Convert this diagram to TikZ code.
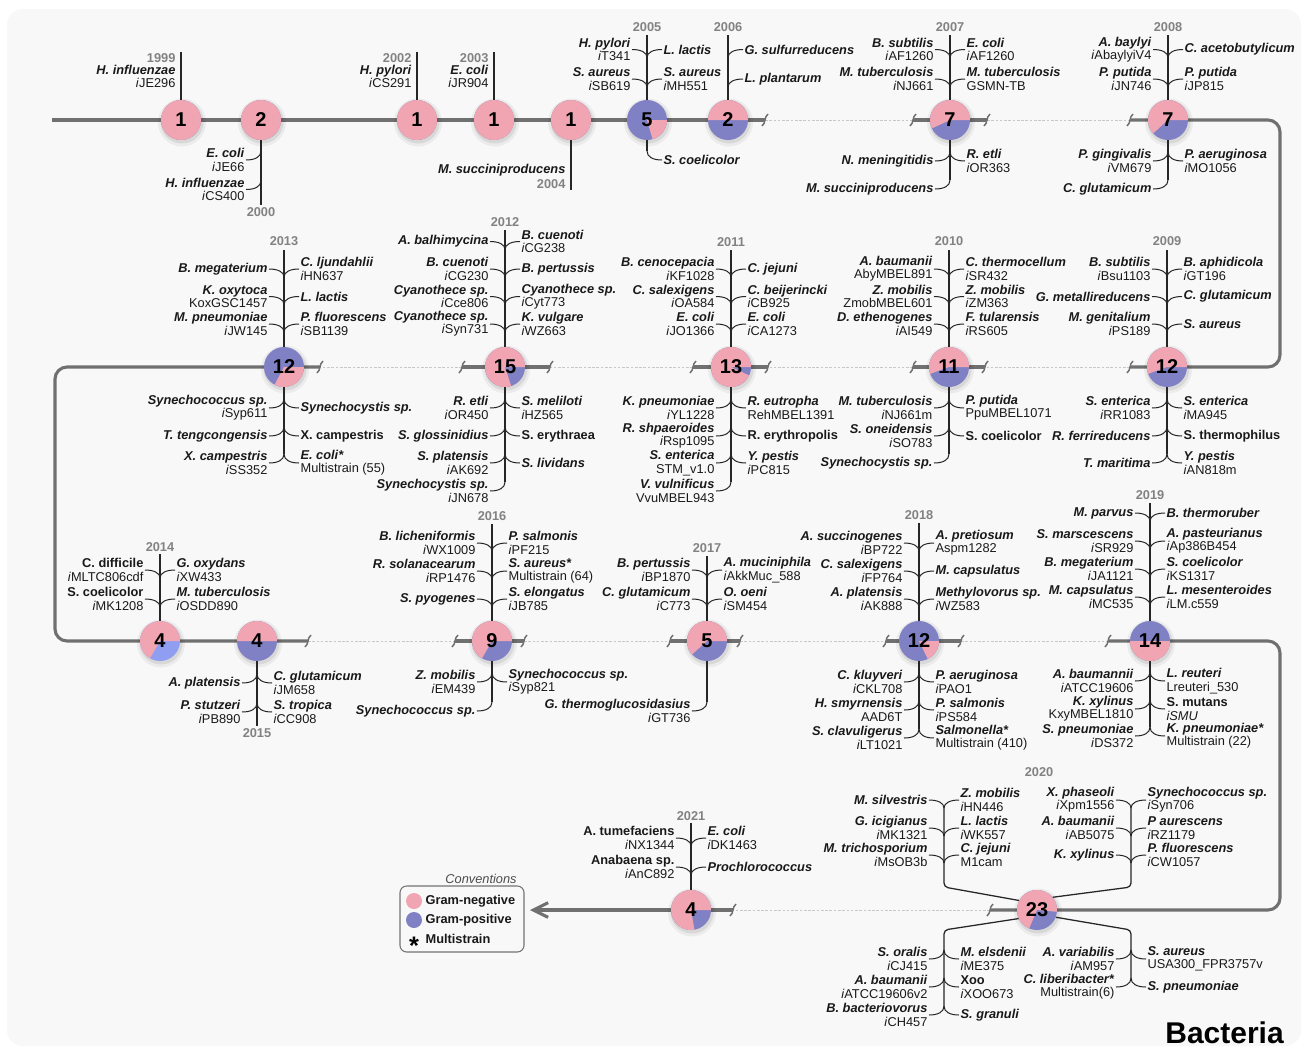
\documentclass[tikz,border=0pt]{standalone}
\usepackage{fontspec}
\setmainfont{Liberation Sans}
\usetikzlibrary{arrows.meta}

\definecolor{gneg}{RGB}{241,164,177}
\definecolor{gpos}{RGB}{128,128,196}
\definecolor{gposl}{RGB}{143,158,240}
\definecolor{linegray}{RGB}{112,112,112}
\definecolor{dashgray}{RGB}{200,200,200}
\definecolor{yeargray}{RGB}{130,130,130}
\definecolor{bg}{RGB}{247,248,247}

\tikzset{
  mainline/.style={draw=linegray, line width=2.3pt, rounded corners=9pt},
  thinline/.style={draw=dashgray, line width=0.6pt, dash pattern=on 2pt off 1.2pt},
  gapline/.style={draw=linegray, line width=1.1pt},
  stalk/.style={draw=black!85, line width=0.95pt},
  twig/.style={draw=black!85, line width=0.75pt},
  bnum/.style={circle, minimum size=30pt, inner sep=0pt, font=\fontsize{15}{15}\selectfont\bfseries},
  lbl/.style={font=\fontsize{9.6}{10}\selectfont, inner sep=1pt, text=black!90},
  yr/.style={font=\fontsize{9.6}{10}\selectfont\bfseries, inner sep=1pt, text=yeargray},
  legbox/.style={draw=black!55, line width=0.8pt, rounded corners=5pt, fill=bg},
}

\newcommand{\tax}[1]{\textbf{\textit{#1}}}
\newcommand{\taxu}[1]{\textbf{#1}}
\newcommand{\gsm}[1]{\textit{i}#1}

\newcounter{twig}
% labels above the circle, joining the stalk below them
\newcommand{\upl}[3]{\stepcounter{twig}%
  \node[lbl,anchor=east,align=right] (n\thetwig) at ({#1-15},{#2}) {#3};
  \coordinate (j\thetwig) at (#1,{#2+8});
  \draw[twig] (n\thetwig.east) .. controls ({#1-6},{#2}) and (#1,{#2+3}) .. (j\thetwig);}
\newcommand{\upr}[3]{\stepcounter{twig}%
  \node[lbl,anchor=west,align=left] (n\thetwig) at ({#1+15},{#2}) {#3};
  \coordinate (j\thetwig) at (#1,{#2+8});
  \draw[twig] (n\thetwig.west) .. controls ({#1+6},{#2}) and (#1,{#2+3}) .. (j\thetwig);}
% labels below the circle, joining the stalk above them
\newcommand{\dnl}[3]{\stepcounter{twig}%
  \node[lbl,anchor=east,align=right] (n\thetwig) at ({#1-15},{#2}) {#3};
  \coordinate (j\thetwig) at (#1,{#2-9});
  \draw[twig] (n\thetwig.east) .. controls ({#1-6},{#2}) and (#1,{#2-3}) .. (j\thetwig);}
\newcommand{\dnr}[3]{\stepcounter{twig}%
  \node[lbl,anchor=west,align=left] (n\thetwig) at ({#1+15},{#2}) {#3};
  \coordinate (j\thetwig) at (#1,{#2-9});
  \draw[twig] (n\thetwig.west) .. controls ({#1+6},{#2}) and (#1,{#2-3}) .. (j\thetwig);}

% pie: name, x, y, pink from, pink to (degrees, anticlockwise), number
\newcommand{\yearball}[6]{%
  \fill[black,opacity=.05] ({#2+1},{#3+2.5}) circle[radius=24];
  \fill[black,opacity=.08] ({#2+1},{#3+2}) circle[radius=21.5];
  \fill[gpos] (#2,#3) circle[radius=20];
  \fill[gneg] (#2,#3) -- ++({-(#4)}:20) arc[start angle={-(#4)}, end angle={-(#5)}, radius=20] -- cycle;
  \node[bnum] (#1) at (#2,#3) {#6};}

\newcommand{\gapmark}[2]{\draw[gapline] ({#1-3},{#2+6}) .. controls ({#1+1},{#2+3}) and ({#1-1},{#2-3}) .. ({#1+3},{#2-6});}

\begin{document}
\begin{tikzpicture}[x=0.75pt,y=-0.75pt]
\useasboundingbox (0,0) rectangle (1307,1050);
\fill[white] (0,0) rectangle (1307,1050);
\fill[bg, rounded corners=12pt] (7,9) rectangle (1301,1046);

% timeline
\draw[thinline] (765,120) -- (913,120) (987,120) -- (1130,120);
\draw[thinline] (1130,367) -- (985,367) (913,367) -- (768,367) (693,367) -- (550,367) (462,367) -- (320,367);
\draw[thinline] (308,641) -- (455,641) (524,641) -- (670,641) (740,641) -- (886,641) (961,641) -- (1108,641);
\draw[thinline] (990,910) -- (733,910);

\draw[mainline] (52,120) -- (765,120);
\draw[mainline] (913,120) -- (987,120);
\draw[mainline] (1130,120) -- (1280,120) -- (1280,367) -- (1130,367);
\draw[mainline] (985,367) -- (913,367);
\draw[mainline] (768,367) -- (693,367);
\draw[mainline] (550,367) -- (462,367);
\draw[mainline] (320,367) -- (55,367) -- (55,641) -- (308,641);
\draw[mainline] (455,641) -- (524,641);
\draw[mainline] (670,641) -- (740,641);
\draw[mainline] (886,641) -- (961,641);
\draw[mainline] (1108,641) -- (1280,641) -- (1280,910) -- (990,910);
\draw[mainline,-{Straight Barb[length=11pt,width=11pt]}] (733,910) -- (530,910);

\foreach \x in {765,913,987,1130} {\gapmark{\x}{120}}
\foreach \x in {1130,985,913,768,693,550,462,320} {\gapmark{\x}{367}}
\foreach \x in {308,455,524,670,740,886,961,1108} {\gapmark{\x}{641}}
\foreach \x in {990,733} {\gapmark{\x}{910}}

% 1999
\yearball{c1999}{181}{120}{0}{360}{1}
\coordinate (t1999) at (181,52);
\draw[stalk] (c1999.north) -- (t1999);
\node[yr,anchor=east] (y1999) at (177,58) {1999};
\node[lbl,anchor=east,align=right] (n1999) at (177,76.5) {\tax{H. influenzae}\\\gsm{JE296}};

% 2000
\yearball{c2000}{261}{120}{0}{360}{2}
\coordinate (b2000) at (261,205);
\draw[stalk] (c2000.south) -- (b2000);
\node[yr] (y2000) at (261,212) {2000};
\dnl{261}{160}{\tax{E. coli}\\\gsm{JE66}}
\dnl{261}{189.5}{\tax{H. influenzae}\\\gsm{CS400}}

% 2002
\yearball{c2002}{417}{120}{0}{360}{1}
\coordinate (t2002) at (417,52);
\draw[stalk] (c2002.north) -- (t2002);
\node[yr,anchor=east] (y2002) at (413,58) {2002};
\node[lbl,anchor=east,align=right] (n2002) at (413,76.5) {\tax{H. pylori}\\\gsm{CS291}};

% 2003
\yearball{c2003}{494}{120}{0}{360}{1}
\coordinate (t2003) at (494,52);
\draw[stalk] (c2003.north) -- (t2003);
\node[yr,anchor=east] (y2003) at (490,58) {2003};
\node[lbl,anchor=east,align=right] (n2003) at (490,76.5) {\tax{E. coli}\\\gsm{JR904}};

% 2004
\yearball{c2004}{571}{120}{0}{360}{1}
\coordinate (b2004) at (571,190);
\draw[stalk] (c2004.south) -- (b2004);
\node[lbl,anchor=east] (n2004) at (567,170) {\tax{M. succiniproducens}};
\node[yr,anchor=east] (y2004) at (567,184) {2004};

% 2005
\yearball{c2005}{647}{120}{-74}{0}{5}
\coordinate (t2005) at (647,35);
\coordinate (b2005) at (647,151);
\draw[stalk] (c2005.north) -- (t2005);
\draw[stalk] (c2005.south) -- (b2005);
\node[yr] (y2005) at (647,27) {2005};
\upl{647}{49.5}{\tax{H. pylori}\\\gsm{T341}}
\upr{647}{49.5}{\tax{L. lactis}}
\upl{647}{79}{\tax{S. aureus}\\\gsm{SB619}}
\upr{647}{79}{\tax{S. aureus}\\\gsm{MH551}}
\dnr{647}{160}{\tax{S. coelicolor}}

% 2006
\yearball{c2006}{728}{120}{0}{180}{2}
\coordinate (t2006) at (728,35);
\draw[stalk] (c2006.north) -- (t2006);
\node[yr] (y2006) at (728,27) {2006};
\upr{728}{49.5}{\tax{G. sulfurreducens}}
\upr{728}{79}{\tax{L. plantarum}}

% 2007
\yearball{c2007}{950}{120}{0}{205}{7}
\coordinate (t2007) at (950,35);
\coordinate (b2007) at (950,180);
\draw[stalk] (c2007.north) -- (t2007);
\draw[stalk] (c2007.south) -- (b2007);
\node[yr] (y2007) at (950,27) {2007};
\upl{950}{49.5}{\tax{B. subtilis}\\\gsm{AF1260}}
\upr{950}{49.5}{\tax{E. coli}\\\gsm{AF1260}}
\upl{950}{79}{\tax{M. tuberculosis}\\\gsm{NJ661}}
\upr{950}{79}{\tax{M. tuberculosis}\\GSMN-TB}
\dnl{950}{161}{\tax{N. meningitidis}}
\dnr{950}{161}{\tax{R. etli}\\\gsm{OR363}}
\dnl{950}{189}{\tax{M. succiniproducens}}

% 2008
\yearball{c2008}{1168}{120}{0}{222}{7}
\coordinate (t2008) at (1168,35);
\coordinate (b2008) at (1168,180);
\draw[stalk] (c2008.north) -- (t2008);
\draw[stalk] (c2008.south) -- (b2008);
\node[yr] (y2008) at (1168,27) {2008};
\upl{1168}{49.5}{\tax{A. baylyi}\\\gsm{AbaylyiV4}}
\upr{1168}{49.5}{\tax{C. acetobutylicum}}
\upl{1168}{79}{\tax{P. putida}\\\gsm{JN746}}
\upr{1168}{79}{\tax{P. putida}\\\gsm{JP815}}
\dnl{1168}{161}{\tax{P. gingivalis}\\\gsm{VM679}}
\dnr{1168}{161}{\tax{P. aeruginosa}\\\gsm{MO1056}}
\dnl{1168}{189}{\tax{C. glutamicum}}

% 2009
\yearball{c2009}{1167}{367}{0}{200}{12}
\coordinate (t2009) at (1167,250);
\coordinate (b2009) at (1167,454);
\draw[stalk] (c2009.north) -- (t2009);
\draw[stalk] (c2009.south) -- (b2009);
\node[yr] (y2009) at (1167,241) {2009};
\upl{1167}{269}{\tax{B. subtilis}\\\gsm{Bsu1103}}
\upr{1167}{269}{\tax{B. aphidicola}\\\gsm{GT196}}
\upl{1167}{296.5}{\tax{G. metallireducens}}
\upr{1167}{296.5}{\tax{C. glutamicum}}
\upl{1167}{324}{\tax{M. genitalium}\\\gsm{PS189}}
\upr{1167}{324}{\tax{S. aureus}}
\dnl{1167}{408}{\tax{S. enterica}\\\gsm{RR1083}}
\dnr{1167}{408}{\tax{S. enterica}\\\gsm{MA945}}
\dnl{1167}{436}{\tax{R. ferrireducens}}
\dnr{1167}{436}{\taxu{S. thermophilus}}
\dnl{1167}{463}{\tax{T. maritima}}
\dnr{1167}{463}{\tax{Y. pestis}\\\gsm{AN818m}}

% 2010
\yearball{c2010}{949}{367}{0}{200}{11}
\coordinate (t2010) at (949,250);
\coordinate (b2010) at (949,454);
\draw[stalk] (c2010.north) -- (t2010);
\draw[stalk] (c2010.south) -- (b2010);
\node[yr] (y2010) at (949,241) {2010};
\upl{949}{269}{\tax{A. baumanii}\\AbyMBEL891}
\upr{949}{269}{\tax{C. thermocellum}\\\gsm{SR432}}
\upl{949}{296.5}{\tax{Z. mobilis}\\ZmobMBEL601}
\upr{949}{296.5}{\tax{Z. mobilis}\\\gsm{ZM363}}
\upl{949}{324}{\tax{D. ethenogenes}\\\gsm{AI549}}
\upr{949}{324}{\tax{F. tularensis}\\\gsm{RS605}}
\dnl{949}{408}{\tax{M. tuberculosis}\\\gsm{NJ661m}}
\dnr{949}{408}{\tax{P. putida}\\PpuMBEL1071}
\dnl{949}{436}{\tax{S. oneidensis}\\\gsm{SO783}}
\dnr{949}{436}{\taxu{S. coelicolor}}
\dnl{949}{463}{\tax{Synechocystis sp.}}

% 2011
\yearball{c2011}{731}{367}{0}{335}{13}
\coordinate (t2011) at (731,250);
\coordinate (b2011) at (731,482);
\draw[stalk] (c2011.north) -- (t2011);
\draw[stalk] (c2011.south) -- (b2011);
\node[yr] (y2011) at (731,242) {2011};
\upl{731}{269}{\tax{B. cenocepacia}\\\gsm{KF1028}}
\upr{731}{269}{\tax{C. jejuni}}
\upl{731}{296.5}{\tax{C. salexigens}\\\gsm{OA584}}
\upr{731}{296.5}{\tax{C. beijerincki}\\\gsm{CB925}}
\upl{731}{324}{\tax{E. coli}\\\gsm{JO1366}}
\upr{731}{324}{\tax{E. coli}\\\gsm{CA1273}}
\dnl{731}{408}{\tax{K. pneumoniae}\\\gsm{YL1228}}
\dnr{731}{408}{\tax{R. eutropha}\\RehMBEL1391}
\dnl{731}{436}{\tax{R. shpaeroides}\\\gsm{Rsp1095}}
\dnr{731}{436}{\taxu{R. erythropolis}}
\dnl{731}{463}{\tax{S. enterica}\\STM\_v1.0}
\dnr{731}{463}{\tax{Y. pestis}\\\gsm{PC815}}
\dnl{731}{491}{\tax{V. vulnificus}\\VvuMBEL943}

% 2012
\yearball{c2012}{505}{367}{0}{288}{15}
\coordinate (t2012) at (505,230);
\coordinate (b2012) at (505,482);
\draw[stalk] (c2012.north) -- (t2012);
\draw[stalk] (c2012.south) -- (b2012);
\node[yr] (y2012) at (505,222) {2012};
\upl{505}{241.5}{\tax{A. balhimycina}}
\upr{505}{241.5}{\tax{B. cuenoti}\\\gsm{CG238}}
\upl{505}{269}{\tax{B. cuenoti}\\\gsm{CG230}}
\upr{505}{269}{\tax{B. pertussis}}
\upl{505}{296.5}{\tax{Cyanothece sp.}\\\gsm{Cce806}}
\upr{505}{296.5}{\tax{Cyanothece sp.}\\\gsm{Cyt773}}
\upl{505}{324}{\tax{Cyanothece sp.}\\\gsm{Syn731}}
\upr{505}{324}{\tax{K. vulgare}\\\gsm{WZ663}}
\dnl{505}{408}{\tax{R. etli}\\\gsm{OR450}}
\dnr{505}{408}{\tax{S. meliloti}\\\gsm{HZ565}}
\dnl{505}{436}{\tax{S. glossinidius}}
\dnr{505}{436}{\taxu{S. erythraea}}
\dnl{505}{463}{\tax{S. platensis}\\\gsm{AK692}}
\dnr{505}{463}{\tax{S. lividans}}
\dnl{505}{491}{\tax{Synechocystis sp.}\\\gsm{JN678}}

% 2013
\yearball{c2013}{284}{367}{-118}{0}{12}
\coordinate (t2013) at (284,250);
\coordinate (b2013) at (284,454);
\draw[stalk] (c2013.north) -- (t2013);
\draw[stalk] (c2013.south) -- (b2013);
\node[yr] (y2013) at (284,241) {2013};
\upl{284}{269}{\tax{B. megaterium}}
\upr{284}{269}{\tax{C. ljundahlii}\\\gsm{HN637}}
\upl{284}{296.5}{\tax{K. oxytoca}\\KoxGSC1457}
\upr{284}{296.5}{\tax{L. lactis}}
\upl{284}{324}{\tax{M. pneumoniae}\\\gsm{JW145}}
\upr{284}{324}{\tax{P. fluorescens}\\\gsm{SB1139}}
\dnl{284}{408}{\tax{Synechococcus sp.}\\\gsm{Syp611}}
\dnr{284}{408}{\tax{Synechocystis sp.}}
\dnl{284}{436}{\tax{T. tengcongensis}}
\dnr{284}{436}{\taxu{X. campestris}}
\dnl{284}{463}{\tax{X. campestris}\\\gsm{SS352}}
\dnr{284}{463}{\tax{E. coli*}\\Multistrain (55)}

% 2014
\begin{scope}
\colorlet{gpos}{gposl}
\yearball{c2014}{160}{641}{0}{240}{4}
\end{scope}
\coordinate (t2014) at (160,554);
\draw[stalk] (c2014.north) -- (t2014);
\node[yr] (y2014) at (160,547) {2014};
\upl{160}{570}{\taxu{C. difficile}\\\gsm{MLTC806cdf}}
\upr{160}{570}{\tax{G. oxydans}\\\gsm{XW433}}
\upl{160}{599}{\taxu{S. coelicolor}\\\gsm{MK1208}}
\upr{160}{599}{\tax{M. tuberculosis}\\\gsm{OSDD890}}

% 2015
\yearball{c2015}{257}{641}{0}{180}{4}
\coordinate (b2015) at (257,726);
\draw[stalk] (c2015.south) -- (b2015);
\node[yr] (y2015) at (257,733) {2015};
\dnl{257}{683}{\tax{A. platensis}}
\dnr{257}{683}{\tax{C. glutamicum}\\\gsm{JM658}}
\dnl{257}{712}{\tax{P. stutzeri}\\\gsm{PB890}}
\dnr{257}{712}{\tax{S. tropica}\\\gsm{CC908}}

% 2016
\yearball{c2016}{492}{641}{0}{240}{9}
\coordinate (t2016) at (492,524);
\coordinate (b2016) at (492,702);
\draw[stalk] (c2016.north) -- (t2016);
\draw[stalk] (c2016.south) -- (b2016);
\node[yr] (y2016) at (492,516) {2016};
\upl{492}{543}{\tax{B. licheniformis}\\\gsm{WX1009}}
\upr{492}{543}{\tax{P. salmonis}\\\gsm{PF215}}
\upl{492}{571}{\tax{R. solanacearum}\\\gsm{RP1476}}
\upr{492}{571}{\tax{S. aureus*}\\Multistrain (64)}
\upl{492}{599}{\tax{S. pyogenes}}
\upr{492}{599}{\tax{S. elongatus}\\\gsm{JB785}}
\dnl{492}{682}{\tax{Z. mobilis}\\\gsm{EM439}}
\dnr{492}{682}{\tax{Synechococcus sp.}\\\gsm{Syp821}}
\dnl{492}{711}{\tax{Synechococcus sp.}}

% 2017
\yearball{c2017}{707}{641}{0}{222}{5}
\coordinate (t2017) at (707,556);
\coordinate (b2017) at (707,702);
\draw[stalk] (c2017.north) -- (t2017);
\draw[stalk] (c2017.south) -- (b2017);
\node[yr] (y2017) at (707,548) {2017};
\upl{707}{570}{\tax{B. pertussis}\\\gsm{BP1870}}
\upr{707}{570}{\tax{A. muciniphila}\\\gsm{AkkMuc\_588}}
\upl{707}{599}{\tax{C. glutamicum}\\\gsm{C773}}
\upr{707}{599}{\tax{O. oeni}\\\gsm{SM454}}
\dnl{707}{711}{\tax{G. thermoglucosidasius}\\\gsm{GT736}}

% 2018
\yearball{c2018}{919}{641}{-64}{0}{12}
\coordinate (t2018) at (919,523);
\coordinate (b2018) at (919,729);
\draw[stalk] (c2018.north) -- (t2018);
\draw[stalk] (c2018.south) -- (b2018);
\node[yr] (y2018) at (919,515) {2018};
\upl{919}{543}{\tax{A. succinogenes}\\\gsm{BP722}}
\upr{919}{543}{\tax{A. pretiosum}\\Aspm1282}
\upl{919}{571}{\tax{C. salexigens}\\\gsm{FP764}}
\upr{919}{571}{\tax{M. capsulatus}}
\upl{919}{599}{\tax{A. platensis}\\\gsm{AK888}}
\upr{919}{599}{\tax{Methylovorus sp.}\\\gsm{WZ583}}
\dnl{919}{682}{\tax{C. kluyveri}\\\gsm{CKL708}}
\dnr{919}{682}{\tax{P. aeruginosa}\\\gsm{PAO1}}
\dnl{919}{710}{\tax{H. smyrnensis}\\AAD6T}
\dnr{919}{710}{\tax{P. salmonis}\\\gsm{PS584}}
\dnl{919}{738}{\tax{S. clavuligerus}\\\gsm{LT1021}}
\dnr{919}{738}{\tax{Salmonella*}\\Multistrain (410)}

% 2019
\yearball{c2019}{1150}{641}{180}{360}{14}
\coordinate (t2019) at (1150,503);
\coordinate (b2019) at (1150,727);
\draw[stalk] (c2019.north) -- (t2019);
\draw[stalk] (c2019.south) -- (b2019);
\node[yr] (y2019) at (1150,495) {2019};
\upl{1150}{513}{\tax{M. parvus}}
\upr{1150}{513}{\tax{B. thermoruber}}
\upl{1150}{541}{\tax{S. marscescens}\\\gsm{SR929}}
\upr{1150}{541}{\tax{A. pasteurianus}\\\gsm{Ap386B454}}
\upl{1150}{569}{\tax{B. megaterium}\\\gsm{JA1121}}
\upr{1150}{569}{\tax{S. coelicolor}\\\gsm{KS1317}}
\upl{1150}{597}{\tax{M. capsulatus}\\\gsm{MC535}}
\upr{1150}{597}{\tax{L. mesenteroides}\\\gsm{LM.c559}}
\dnl{1150}{681}{\tax{A. baumannii}\\\gsm{ATCC19606}}
\dnr{1150}{681}{\tax{L. reuteri}\\Lreuteri\_530}
\dnl{1150}{709}{\tax{K. xylinus}\\KxyMBEL1810}
\dnr{1150}{709}{\taxu{S. mutans}\\\textit{iSMU}}
\dnl{1150}{736}{\tax{S. pneumoniae}\\\gsm{DS372}}
\dnr{1150}{736}{\tax{K. pneumoniae*}\\Multistrain (22)}

% 2020
\yearball{c2020}{1037}{910}{-5}{247}{23}
\node[yr] (y2020) at (1039,772) {2020};
\coordinate (ul2020) at (944,808);
\coordinate (ur2020) at (1131,808);
\coordinate (dl2020) at (944,1006);
\coordinate (dr2020) at (1131,978);
\draw[stalk,rounded corners=3pt] (c2020.152) -- (944,887) -- (ul2020);
\draw[stalk,rounded corners=3pt] (c2020.39) -- (1131,887) -- (ur2020);
\draw[stalk,rounded corners=3pt] (c2020.205) -- (944,930) -- (dl2020);
\draw[stalk,rounded corners=3pt] (c2020.339) -- (1131,930) -- (dr2020);
\upl{944}{800}{\tax{M. silvestris}}
\upr{944}{800}{\tax{Z. mobilis}\\\gsm{HN446}}
\upl{944}{828}{\tax{G. icigianus}\\\gsm{MK1321}}
\upr{944}{828}{\tax{L. lactis}\\\gsm{WK557}}
\upl{944}{855}{\tax{M. trichosporium}\\\gsm{MsOB3b}}
\upr{944}{855}{\tax{C. jejuni}\\M1cam}
\upl{1131}{800}{\tax{X. phaseoli}\\\gsm{Xpm1556}}
\upr{1131}{800}{\tax{Synechococcus sp.}\\\gsm{Syn706}}
\upl{1131}{828}{\tax{A. baumanii}\\\gsm{AB5075}}
\upr{1131}{828}{\tax{P aurescens}\\\gsm{RZ1179}}
\upl{1131}{855}{\tax{K. xylinus}}
\upr{1131}{855}{\tax{P. fluorescens}\\\gsm{CW1057}}
\dnl{944}{959}{\tax{S. oralis}\\\gsm{CJ415}}
\dnr{944}{959}{\tax{M. elsdenii}\\\gsm{ME375}}
\dnl{944}{987}{\tax{A. baumanii}\\\gsm{ATCC19606v2}}
\dnr{944}{987}{\taxu{Xoo}\\\gsm{XOO673}}
\dnl{944}{1015}{\tax{B. bacteriovorus}\\\gsm{CH457}}
\dnr{944}{1015}{\tax{S. granuli}}
\dnl{1131}{959}{\tax{A. variabilis}\\\gsm{AM957}}
\dnr{1131}{959}{\tax{S. aureus}\\USA300\_FPR3757v}
\dnl{1131}{987}{\tax{C. liberibacter*}\\Multistrain(6)}
\dnr{1131}{987}{\tax{S. pneumoniae}}

% 2021
\yearball{c2021}{691}{910}{0}{280}{4}
\coordinate (t2021) at (691,823);
\draw[stalk] (c2021.north) -- (t2021);
\node[yr] (y2021) at (691,816) {2021};
\upl{691}{838}{\taxu{A. tumefaciens}\\\gsm{NX1344}}
\upr{691}{838}{\tax{E. coli}\\\gsm{DK1463}}
\upl{691}{867}{\taxu{Anabaena sp.}\\\gsm{AnC892}}
\upr{691}{867}{\tax{Prochlorococcus}}

% conventions
\node[lbl,font=\fontsize{9.6}{10}\selectfont\itshape,text=black!70] (conv) at (481,879) {Conventions};
\node[legbox,minimum width=93pt,minimum height=49.5pt] (leg) at (462,919) {};
\fill[gneg] (414,901) circle[radius=8];
\fill[gpos] (414,920) circle[radius=8];
\node[lbl,anchor=west,font=\fontsize{9.6}{10}\selectfont\bfseries] (lneg) at (424,901) {Gram-negative};
\node[lbl,anchor=west,font=\fontsize{9.6}{10}\selectfont\bfseries] (lpos) at (424,920) {Gram-positive};
\node[inner sep=0pt,font=\fontsize{19}{19}\selectfont\bfseries] (lstar) at (414,946) {*};
\node[lbl,anchor=west,font=\fontsize{9.6}{10}\selectfont\bfseries] (lmul) at (424,939) {Multistrain};

\node[font=\fontsize{22.5}{24}\selectfont\bfseries,anchor=base east,inner sep=0pt] (title) at (1284,1043) {Bacteria};
\end{tikzpicture}
\end{document}
